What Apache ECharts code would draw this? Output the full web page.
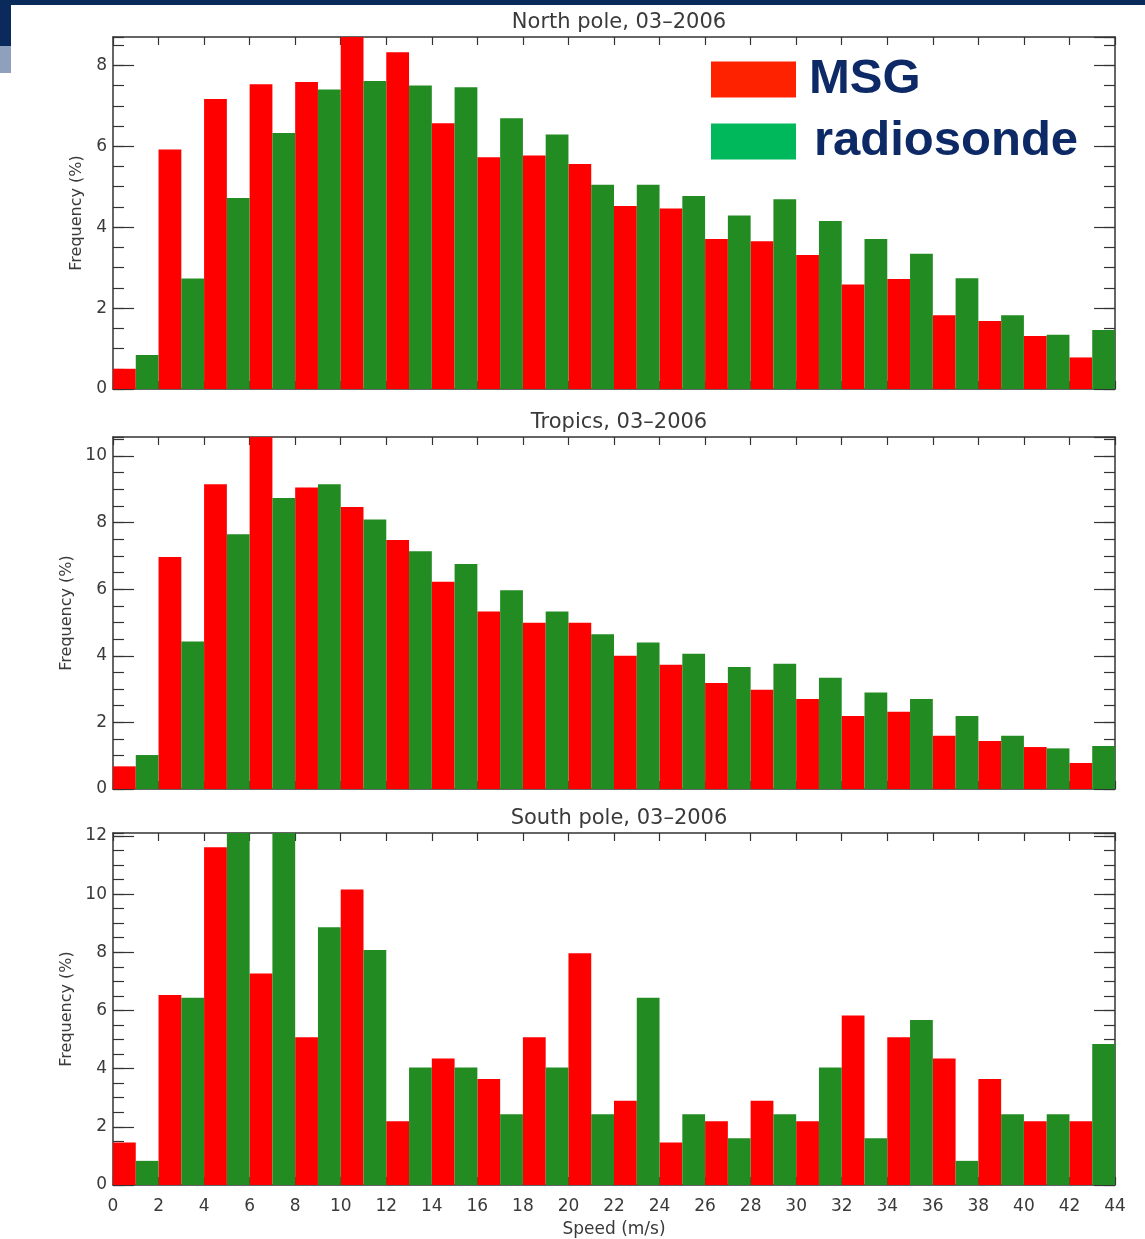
<!DOCTYPE html>
<html>
<head>
<meta charset="utf-8">
<script src="https://cdn.jsdelivr.net/npm/echarts@6/dist/echarts.min.js"></script>
<style>
html,body{margin:0;padding:0;background:#fff;}
#chart{width:1145px;height:1239px;}
</style>
</head>
<body>
<div id="chart"></div>
<script>
// ---- data (frequency in %, 1 m/s bins) ----
// MSG bins start at 0,2,4,...,42 ; radiosonde bins start at 1,3,...,43
const panelTitles = ['North pole, 03\u20132006', 'Tropics, 03\u20132006', 'South pole, 03\u20132006'];
const seriesNames = ['MSG', 'radiosonde'];
const northMSG   = [0.50, 5.92, 7.17, 7.53, 7.59, 8.80, 8.32, 6.57, 5.73, 5.77, 5.56, 4.52, 4.46, 3.71, 3.65, 3.31, 2.58, 2.72, 1.82, 1.68, 1.31, 0.78];
const northRadio = [0.84, 2.73, 4.72, 6.33, 7.40, 7.61, 7.50, 7.46, 6.69, 6.29, 5.05, 5.05, 4.77, 4.29, 4.69, 4.15, 3.71, 3.34, 2.74, 1.82, 1.34, 1.46];
const tropMSG    = [0.68, 6.97, 9.15, 10.70, 9.05, 8.47, 7.48, 6.22, 5.33, 4.99, 4.99, 4.00, 3.73, 3.18, 2.98, 2.70, 2.19, 2.32, 1.60, 1.44, 1.26, 0.78];
const tropRadio  = [1.02, 4.43, 7.65, 8.74, 9.15, 8.09, 7.14, 6.76, 5.97, 5.33, 4.65, 4.40, 4.06, 3.66, 3.76, 3.34, 2.90, 2.70, 2.19, 1.60, 1.22, 1.29];
const southMSG   = [1.46, 6.53, 11.61, 7.27, 5.08, 10.16, 2.19, 4.35, 3.64, 5.08, 7.97, 2.90, 1.46, 2.19, 2.90, 2.19, 5.83, 5.08, 4.35, 3.64, 2.19, 2.19];
const southRadio = [0.83, 6.44, 12.30, 12.30, 8.86, 8.08, 4.04, 4.04, 2.43, 4.04, 2.43, 6.44, 2.43, 1.61, 2.43, 4.04, 1.61, 5.67, 0.83, 2.43, 2.43, 4.85];
const yMaxes = [8.7, 10.57, 12.1];
const xMin = 0, xMax = 44, xStep = 2, binWidth = 1;

// ---- styles ----
const RED = '#ff0000', GREEN = '#228b22';
const AX = '#333';
const TXT = '#3a3a3a';
const FONT = '"DejaVu Sans", sans-serif';
const LFONT = '"Liberation Sans", Arial, sans-serif';
const panels = [[northMSG, northRadio], [tropMSG, tropRadio], [southMSG, southRadio]];
const gridTops = [37, 437, 833];
const gridH = 352;
const nameGaps = [27, 38, 38];

const chart = echarts.init(document.getElementById('chart'), null, {renderer: 'canvas'});

function barRender(color) {
  return function (params, api) {
    const x0 = api.value(0), v = api.value(1);
    const p0 = api.coord([x0, 0]);
    const p1 = api.coord([x0 + binWidth, v]);
    const cs = params.coordSys;
    const rect = echarts.graphic.clipRectByRect(
      {x: p0[0], y: p1[1], width: p1[0] - p0[0], height: p0[1] - p1[1]},
      {x: cs.x, y: cs.y, width: cs.width, height: cs.height});
    if (!rect) return null;
    return {type: 'rect', shape: rect, style: {fill: color}};
  };
}

const grids = [], xAxes = [], yAxes = [], series = [], titles = [];
panels.forEach((pair, g) => {
  grids.push({left: 113, right: 30, top: gridTops[g], height: gridH});
  titles.push({text: panelTitles[g], left: 614, top: gridTops[g] - 30, textAlign: 'center',
    textStyle: {fontFamily: FONT, fontSize: 21, fontWeight: 'normal', color: TXT}});
  const last = g === panels.length - 1;
  // bottom x axis
  xAxes.push({gridIndex: g, type: 'value', position: 'bottom', min: xMin, max: xMax, interval: xStep,
    axisLine: {onZero: false, lineStyle: {color: AX, width: 1.5}},
    axisTick: {inside: true, length: 8, lineStyle: {color: AX, width: 1.2}},
    axisLabel: {show: last, margin: 13, fontFamily: FONT, fontSize: 17, color: TXT},
    splitLine: {show: false},
    name: last ? 'Speed (m/s)' : '', nameLocation: 'middle', nameGap: 36,
    nameTextStyle: {fontFamily: FONT, fontSize: 17, color: TXT}});
  // top x axis
  xAxes.push({gridIndex: g, type: 'value', position: 'top', min: xMin, max: xMax, interval: xStep,
    axisLine: {onZero: false, lineStyle: {color: AX, width: 1.5}},
    axisTick: {inside: true, length: 8, lineStyle: {color: AX, width: 1.2}},
    axisLabel: {show: false}, splitLine: {show: false}});
  const yMax = yMaxes[g];
  const common = {gridIndex: g, type: 'value', min: 0, max: yMax, splitLine: {show: false}};
  // left major
  yAxes.push(Object.assign({}, common, {position: 'left', interval: 2,
    axisLine: {show: true, onZero: false, lineStyle: {color: AX, width: 1.5}},
    axisTick: {show: true, inside: true, length: 21, lineStyle: {color: AX, width: 1.2}},
    axisLabel: {margin: 6, fontFamily: FONT, fontSize: 17, color: TXT, showMaxLabel: false,
      formatter: v => (Math.abs(v % 2) < 1e-9 ? String(v) : '')},
    name: 'Frequency (%)', nameLocation: 'middle', nameGap: nameGaps[g],
    nameTextStyle: {fontFamily: FONT, fontSize: 16, color: TXT}}));
  // left minor
  yAxes.push(Object.assign({}, common, {position: 'left', interval: 0.5,
    axisLine: {show: false, onZero: false},
    axisTick: {show: true, inside: true, length: 11, lineStyle: {color: AX, width: 1.2}},
    axisLabel: {show: false}}));
  // right major
  yAxes.push(Object.assign({}, common, {position: 'right', interval: 2,
    axisLine: {show: true, onZero: false, lineStyle: {color: AX, width: 1.5}},
    axisTick: {show: true, inside: true, length: 21, lineStyle: {color: AX, width: 1.2}},
    axisLabel: {show: false}}));
  // right minor
  yAxes.push(Object.assign({}, common, {position: 'right', interval: 0.5,
    axisLine: {show: false, onZero: false},
    axisTick: {show: true, inside: true, length: 11, lineStyle: {color: AX, width: 1.2}},
    axisLabel: {show: false}}));

  const colors = [RED, GREEN];
  pair.forEach((vals, s) => {
    series.push({
      name: seriesNames[s], type: 'custom', xAxisIndex: 2 * g, yAxisIndex: 4 * g,
      itemStyle: {color: colors[s]},
      renderItem: barRender(colors[s]),
      encode: {x: 0, y: 1},
      data: vals.map((v, i) => [2 * i + s, v]),
      z: 3
    });
  });
});

chart.setOption({
  backgroundColor: '#ffffff',
  animation: false,
  title: titles,
  grid: grids,
  xAxis: xAxes,
  yAxis: yAxes,
  series: series,
  legend: {
    orient: 'vertical', left: 711, top: 55, padding: 0, itemGap: 13,
    itemWidth: 85, itemHeight: 36, icon: 'rect', selectedMode: false,
    textStyle: {
      fontFamily: LFONT, fontWeight: 'bold', fontSize: 49, color: '#0d2a66',
      rich: {
        m: {fontFamily: LFONT, fontWeight: 'bold', fontSize: 49, color: '#0d2a66', padding: [0, 0, 0, 8]},
        r: {fontFamily: LFONT, fontWeight: 'bold', fontSize: 49, color: '#0d2a66', padding: [0, 0, 0, 13]}
      }
    },
    data: [
      {name: 'MSG', itemStyle: {color: '#ff2200'}},
      {name: 'radiosonde', itemStyle: {color: '#00b85c'}}
    ],
    formatter: n => (n === 'radiosonde' ? '{r|' + n + '}' : '{m|' + n + '}')
  },
  graphic: [
    {type: 'rect', z: 100, shape: {x: 0, y: 0, width: 1145, height: 5}, style: {fill: '#0b2a5c'}},
    {type: 'rect', z: 100, shape: {x: 0, y: 0, width: 11, height: 46}, style: {fill: '#0b2a5c'}},
    {type: 'rect', z: 100, shape: {x: 0, y: 46, width: 11, height: 27}, style: {fill: '#8fa0bd'}}
  ]
});
</script>
</body>
</html>
